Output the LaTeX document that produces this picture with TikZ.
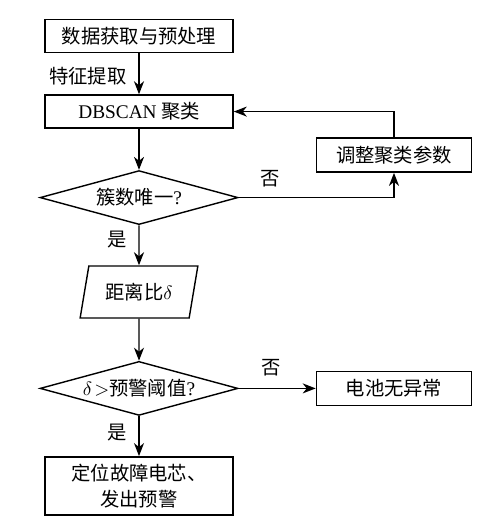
\documentclass[tikz,border=0pt]{standalone}
\usepackage{fontspec}
\setmainfont{Liberation Serif}
\newfontfamily\cjkfont{Noto Sans CJK SC}
\usetikzlibrary{positioning, arrows.meta, shapes.geometric}

\begin{document}
\begin{tikzpicture}[
    font=\fontsize{11}{15}\selectfont\cjkfont,
    node distance=8.2mm and 15.4mm,
    procbox/.style={
        rectangle, draw=black, line width=0.9pt,
        minimum width=37.6mm, minimum height=6.6mm,
        align=center, inner sep=2pt
    },
    sidebox/.style={
        procbox, minimum width=31mm, minimum height=6.8mm
    },
    decision/.style={
        diamond, draw=black, line width=0.8pt, aspect=3.6,
        minimum width=39.6mm, minimum height=10.8mm, inner sep=0pt
    },
    iobox/.style={
        trapezium, trapezium left angle=74, trapezium right angle=106,
        trapezium stretches=true, draw=black, line width=0.8pt,
        minimum width=23.6mm, minimum height=10.4mm, inner sep=1pt
    },
    edgelbl/.style={inner sep=1pt},
    arr/.style={-{Stealth[length=2.6mm, width=2mm, inset=0.8mm]}, line width=0.8pt}
]
\useasboundingbox (0,0) rectangle (10,-10.48);

% ---------------- main column ----------------
\node[procbox] (acquire) at (2.78,-0.72) {数据获取与预处理};
\node[procbox, below=of acquire] (dbscan) {{\rmfamily DBSCAN} 聚类};
\node[decision, below=of dbscan] (clustercheck) {簇数唯一{\rmfamily ?}};
\node[iobox, below=8mm of clustercheck] (ratio) {距离比$\delta$};
\node[decision, below=8.4mm of ratio] (thresholdcheck) {$\delta\!>$预警阈值{\rmfamily ?}};
\node[procbox, minimum height=11.6mm, below=8mm of thresholdcheck] (alarm) {定位故障电芯、\\发出预警};

% ---------------- side column ----------------
\node[sidebox, right=of clustercheck, yshift=8.5mm] (adjust) {调整聚类参数};
\node[sidebox, right=of thresholdcheck] (normal) {电池无异常};

% ---------------- arrows ----------------
\draw[arr] (acquire) -- node[left=2mm, edgelbl, pos=0.55] {特征提取} (dbscan);
\draw[arr] (dbscan) -- (clustercheck);
\draw[arr] (clustercheck.east) -| node[pos=0.1, above=1.6mm, edgelbl] {否} (adjust.south);
\draw[arr] (adjust.north) |- (dbscan.east);
\draw[arr] (clustercheck) -- node[pos=0.35, left=2mm, edgelbl] {是} (ratio);
\draw[arr] (ratio) -- (thresholdcheck);
\draw[arr] (thresholdcheck) -- node[pos=0.42, above=2mm, edgelbl] {否} (normal);
\draw[arr] (thresholdcheck) -- node[pos=0.4, left=2mm, edgelbl] {是} (alarm);

\end{tikzpicture}
\end{document}
